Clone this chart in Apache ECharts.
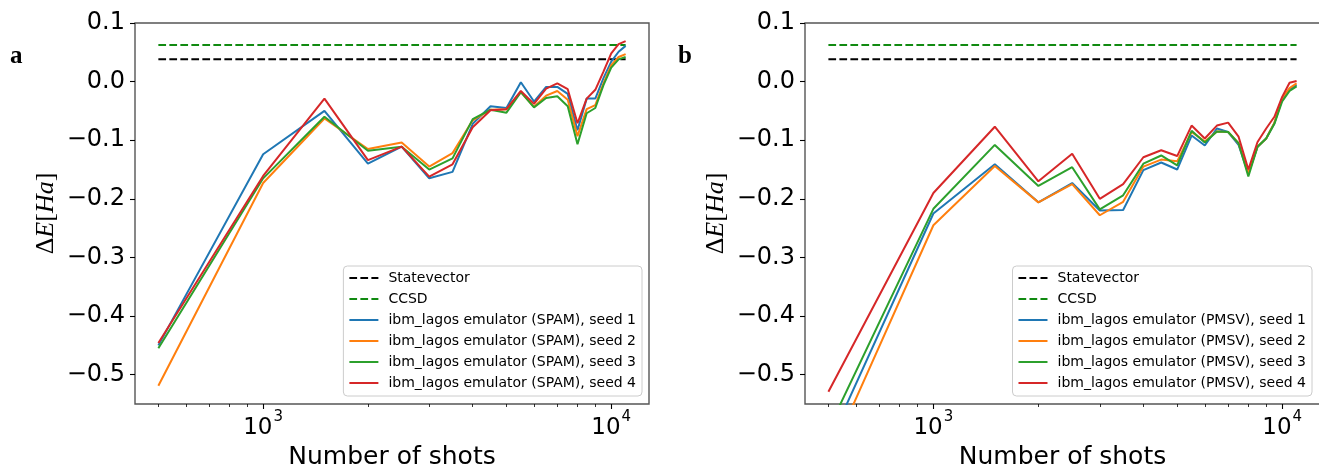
<!DOCTYPE html>
<html>
<head>
<meta charset="utf-8">
<script src="https://cdn.jsdelivr.net/npm/echarts@6/dist/echarts.min.js"></script>
<style>
  html, body { margin: 0; padding: 0; background: #ffffff; }
  #chart { width: 1319px; height: 466px; }
</style>
</head>
<body>
<div id="chart"></div>
<script>
// Shot counts used for every run
const SHOTS = [500, 1000, 1500, 2000, 2500, 3000, 3500, 4000, 4500, 5000, 5500,
               6000, 6500, 7000, 7500, 8000, 8500, 9000, 9500, 10000, 10500, 11000];

// Reference energies (Ha)
const STATEVECTOR_DE = 0.038;
const CCSD_DE = 0.0625;

// Panel a: ibm_lagos emulator with SPAM noise
const SPAM_SEED1 = [-0.450, -0.124, -0.050, -0.140, -0.111, -0.165, -0.154, -0.072, -0.042, -0.045, -0.001,
                    -0.034, -0.009, -0.009, -0.021, -0.083, -0.029, -0.029, 0.006, 0.034, 0.051, 0.061];
const SPAM_SEED2 = [-0.519, -0.173, -0.063, -0.115, -0.104, -0.145, -0.122, -0.066, -0.048, -0.047, -0.018,
                    -0.043, -0.024, -0.016, -0.031, -0.093, -0.047, -0.040, -0.003, 0.028, 0.042, 0.047];
const SPAM_SEED3 = [-0.455, -0.165, -0.060, -0.118, -0.111, -0.150, -0.131, -0.064, -0.048, -0.053, -0.018,
                    -0.044, -0.028, -0.025, -0.042, -0.107, -0.054, -0.045, -0.006, 0.024, 0.038, 0.042];
const SPAM_SEED4 = [-0.446, -0.161, -0.029, -0.134, -0.111, -0.162, -0.141, -0.078, -0.049, -0.047, -0.016,
                    -0.038, -0.012, -0.003, -0.013, -0.071, -0.029, -0.014, 0.017, 0.048, 0.064, 0.069];

// Panel b: ibm_lagos emulator with PMSV noise
const PMSV_SEED1 = [-0.619, -0.225, -0.141, -0.206, -0.173, -0.220, -0.219, -0.151, -0.138, -0.150, -0.092,
                    -0.109, -0.080, -0.086, -0.108, -0.157, -0.111, -0.097, -0.071, -0.030, -0.013, -0.006];
const PMSV_SEED2 = [-0.646, -0.245, -0.144, -0.206, -0.175, -0.228, -0.205, -0.145, -0.133, -0.136, -0.086,
                    -0.102, -0.085, -0.086, -0.105, -0.156, -0.111, -0.097, -0.070, -0.028, -0.011, -0.003];
const PMSV_SEED3 = [-0.593, -0.217, -0.108, -0.178, -0.146, -0.218, -0.194, -0.140, -0.126, -0.143, -0.084,
                    -0.104, -0.085, -0.086, -0.105, -0.162, -0.111, -0.097, -0.072, -0.034, -0.016, -0.008];
const PMSV_SEED4 = [-0.529, -0.190, -0.077, -0.170, -0.123, -0.200, -0.175, -0.129, -0.117, -0.127, -0.075,
                    -0.097, -0.075, -0.070, -0.094, -0.150, -0.103, -0.080, -0.060, -0.026, -0.002, 0.001];

// Axis ticks
const X_MAJOR_TICKS = [1000, 10000];
const X_MINOR_TICKS = [500, 600, 700, 800, 900, 2000, 3000, 4000, 5000, 6000, 7000, 8000, 9000];
const Y_TICKS = [-0.5, -0.4, -0.3, -0.2, -0.1, 0.0, 0.1];
const Y_MIN = -0.55;
const Y_MAX = 0.1;

const SEED_COLORS = ['#1f77b4', '#ff7f0e', '#2ca02c', '#d62728'];
const SANS = '"DejaVu Sans", sans-serif';
const SERIF = '"Liberation Serif", "DejaVu Serif", serif';

// 5% padding on each side in log space
const lo = Math.log10(SHOTS[0]);
const hi = Math.log10(SHOTS[SHOTS.length - 1]);
const pad = (hi - lo) * 0.05;
const X_MIN = Math.pow(10, lo - pad);
const X_MAX = Math.pow(10, hi + pad);

const panels = [
  { left: 135, width: 514, tag: 'a', tagX: 10, noise: 'SPAM', seeds: [SPAM_SEED1, SPAM_SEED2, SPAM_SEED3, SPAM_SEED4], legendRight: 677 },
  { left: 805, width: 515, tag: 'b', tagX: 678, noise: 'PMSV', seeds: [PMSV_SEED1, PMSV_SEED2, PMSV_SEED3, PMSV_SEED4], legendRight: 7 }
];

const grids = [], xAxes = [], yAxes = [], series = [], legends = [], graphics = [];

function pairs(values) {
  return SHOTS.map((s, i) => [s, values[i]]);
}

panels.forEach((p, k) => {
  grids.push({
    left: p.left, top: 23, width: p.width, height: 381,
    show: true, borderColor: '#555', borderWidth: 1.4, backgroundColor: 'transparent',
    containLabel: false, outerBoundsMode: 'none'
  });

  // major ticks + labels
  xAxes.push({
    type: 'log', logBase: 10, gridIndex: k, min: X_MIN, max: X_MAX, position: 'bottom',
    axisLine: { show: false, onZero: false },
    splitLine: { show: false },
    axisTick: { show: true, customValues: X_MAJOR_TICKS, length: 5, lineStyle: { color: '#000', width: 1.1 } },
    axisLabel: {
      show: true, customValues: X_MAJOR_TICKS, margin: 6, hideOverlap: false,
      formatter: v => '{b|10}{s|' + Math.round(Math.log10(v)) + '}',
      rich: {
        b: { fontSize: 23, fontFamily: SANS, color: '#000', lineHeight: 30, verticalAlign: 'bottom' },
        s: { fontSize: 15, fontFamily: SANS, color: '#000', lineHeight: 15, verticalAlign: 'top', padding: [0, 0, 0, 1] }
      }
    },
    name: 'Number of shots', nameLocation: 'middle', nameGap: 38,
    nameTextStyle: { fontSize: 25, fontFamily: SANS, color: '#000' }
  });
  // minor ticks
  xAxes.push({
    type: 'log', logBase: 10, gridIndex: k, min: X_MIN, max: X_MAX, position: 'bottom',
    axisLine: { show: false, onZero: false },
    splitLine: { show: false },
    axisTick: { show: true, customValues: X_MINOR_TICKS, length: 3, lineStyle: { color: '#000', width: 0.8 } },
    axisLabel: { show: false }
  });

  yAxes.push({
    type: 'value', gridIndex: k, min: Y_MIN, max: Y_MAX, position: 'left',
    axisLine: { show: false, onZero: false },
    splitLine: { show: false },
    axisTick: { show: true, customValues: Y_TICKS, length: 5, lineStyle: { color: '#000', width: 1.1 } },
    axisLabel: {
      show: true, customValues: Y_TICKS, margin: 10, hideOverlap: false,
      fontSize: 24, fontFamily: SANS, color: '#000',
      formatter: v => (v < -1e-9 ? '\u2212' : '') + Math.abs(v).toFixed(1)
    },
    name: '{r|\u0394}{i|E}{r|[}{i|Ha}{r|]}', nameLocation: 'middle', nameRotate: 90, nameGap: 76,
    nameTextStyle: {
      rich: {
        r: { fontSize: 26, fontFamily: SERIF, color: '#000' },
        i: { fontSize: 26, fontFamily: SERIF, fontStyle: 'italic', color: '#000' }
      }
    }
  });

  const xi = k * 2;
  series.push({
    name: 'Statevector', type: 'line', xAxisIndex: xi, yAxisIndex: k,
    data: [[SHOTS[0], STATEVECTOR_DE], [SHOTS[SHOTS.length - 1], STATEVECTOR_DE]],
    symbol: 'none', silent: true,
    lineStyle: { color: '#000000', width: 2, type: [7.7, 3.3] }, itemStyle: { color: '#000000' }
  });
  series.push({
    name: 'CCSD', type: 'line', xAxisIndex: xi, yAxisIndex: k,
    data: [[SHOTS[0], CCSD_DE], [SHOTS[SHOTS.length - 1], CCSD_DE]],
    symbol: 'none', silent: true,
    lineStyle: { color: '#118a11', width: 2, type: [7.7, 3.3] }, itemStyle: { color: '#118a11' }
  });
  const names = ['Statevector', 'CCSD'];
  p.seeds.forEach((vals, j) => {
    const nm = 'ibm_lagos emulator (' + p.noise + '), seed ' + (j + 1);
    names.push(nm);
    series.push({
      name: nm, type: 'line', xAxisIndex: xi, yAxisIndex: k,
      data: pairs(vals), symbol: 'none', silent: true, clip: true,
      lineStyle: { color: SEED_COLORS[j], width: 2 }, itemStyle: { color: SEED_COLORS[j] }
    });
  });

  legends.push({
    data: names, orient: 'vertical', right: p.legendRight, top: 266,
    itemWidth: 29, itemHeight: 14, itemGap: 7,
    padding: [5, 6, 6, 5],
    backgroundColor: 'rgba(255,255,255,0.8)', borderColor: '#cccccc', borderWidth: 1, borderRadius: 4,
    selectedMode: false,
    itemStyle: { opacity: 0, color: 'transparent', borderWidth: 0 },
    textStyle: { fontSize: 14, fontFamily: SANS, color: '#000', lineHeight: 14, padding: [0, 0, 0, 5] }
  });

  graphics.push({
    type: 'text', left: p.tagX, top: 44,
    style: { text: p.tag, font: 'bold 25px ' + SERIF, fill: '#000' }
  });
});

const chart = echarts.init(document.getElementById('chart'), null, { renderer: 'canvas' });
chart.setOption({
  animation: false,
  backgroundColor: '#ffffff',
  grid: grids,
  xAxis: xAxes,
  yAxis: yAxes,
  legend: legends,
  series: series,
  graphic: graphics
});
</script>
</body>
</html>
